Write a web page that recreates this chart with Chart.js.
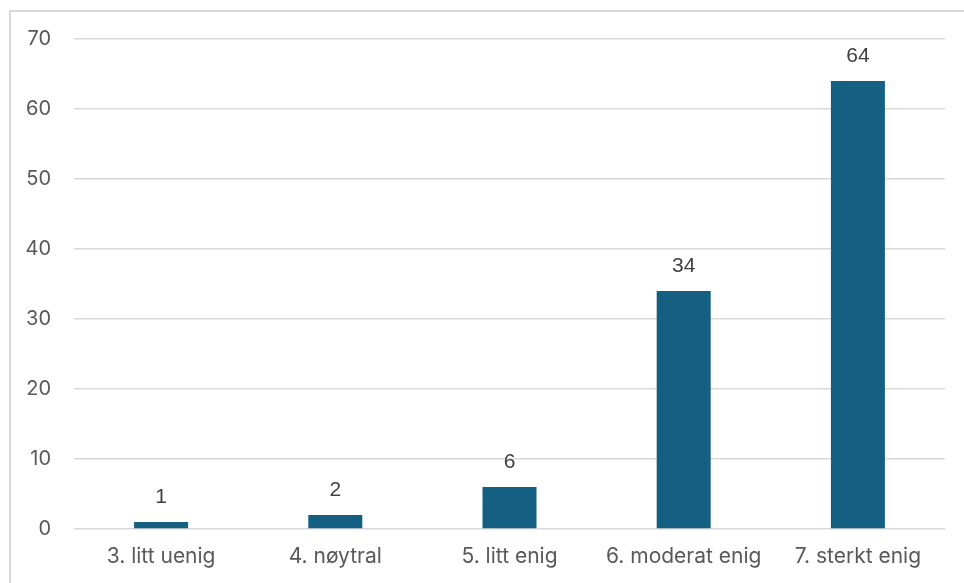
<!DOCTYPE html>
<html lang="no">
<head>
    <meta charset="UTF-8">
    <title>Chart</title>
    <style>
        html, body{
            margin: 0;
            padding: 0;
            background: #fff;
        }
        .chart{
            position: relative;
            width: 964px;
            height: 583px;
        }
    </style>
</head>
<body>
    <div class="chart">
        <canvas id="myChart"></canvas>
    </div>
    <script src="https://cdn.jsdelivr.net/npm/chart.js@4.4.1/dist/chart.umd.min.js"></script>
    <script>
const labels = ["3. litt uenig", "4. nøytral", "5. litt enig", "6. moderat enig", "7. sterkt enig"];
const values = [1, 2, 6, 34, 64];
const yTicks = [0, 10, 20, 30, 40, 50, 60, 70];

const ctx = document.getElementById('myChart').getContext("2d");

// outer frame, cut off at right and bottom like the original
const framePlugin = {
    id: "frame",
    beforeDraw(chart){
        const c = chart.ctx;
        c.save();
        c.strokeStyle = "#d9d9d9";
        c.lineWidth = 2;
        c.strokeRect(10, 11, 1000, 1000);
        c.restore();
    }
};

// value labels over the bars
const valueLabels = {
    id: "valueLabels",
    afterDatasetsDraw(chart){
        const c = chart.ctx;
        c.save();
        c.font = "21px 'Liberation Sans', Arial, sans-serif";
        c.fillStyle = "#404040";
        c.textAlign = "center";
        c.textBaseline = "middle";
        chart.getDatasetMeta(0).data.forEach((bar, i) => {
            c.fillText(String(values[i]), bar.x, bar.y - 25);
        });
        c.restore();
    }
};

const config = {
    type: "bar",
    data: {
        labels,
        datasets: [{
            data: values,
            backgroundColor: "#156082",
            barPercentage: 0.31,
            categoryPercentage: 1.0
        }]
    },
    options: {
        responsive: true,
        maintainAspectRatio: false,
        animation: false,
        layout: {
            padding: { top: 39, right: 19, bottom: 0, left: 0 }
        },
        plugins: {
            legend: { display: false },
            tooltip: { enabled: false }
        },
        scales: {
            x: {
                grid: { display: false, drawTicks: false },
                border: { display: false },
                ticks: {
                    color: "#595959",
                    padding: 15,
                    maxRotation: 0,
                    font: { family: "Inter, 'Open Sans', sans-serif", size: 21 }
                },
                afterFit(scale){ scale.height = 54; }
            },
            y: {
                min: 0,
                max: 70,
                afterBuildTicks(scale){
                    scale.ticks = yTicks.map(v => ({ value: v }));
                },
                grid: { color: "#d9d9d9", lineWidth: 1.5, drawTicks: false },
                border: { display: false },
                ticks: {
                    color: "#595959",
                    padding: 23,
                    font: { family: "Inter, 'Open Sans', sans-serif", size: 20 }
                },
                afterFit(scale){ scale.width = 74; }
            }
        }
    },
    plugins: [framePlugin, valueLabels]
};

const myChart = new Chart(ctx, config);
    </script>
</body>
</html>
